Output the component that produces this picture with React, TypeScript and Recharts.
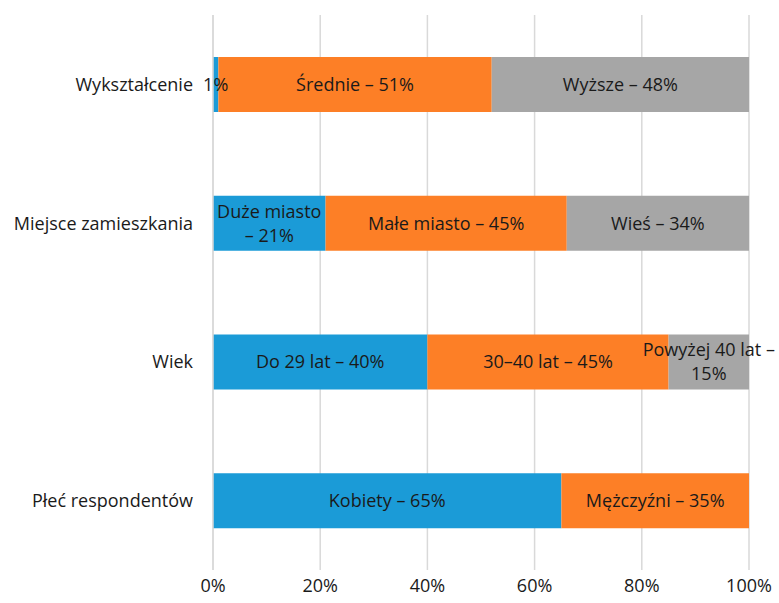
import React from "react";
import { Bar, BarChart, CartesianGrid, LabelList, XAxis, YAxis } from "recharts";

const categories = ["Wykształcenie", "Miejsce zamieszkania", "Wiek", "Płeć respondentów"];
const blueValues = [1, 21, 40, 65];
const orangeValues = [51, 45, 45, 35];
const grayValues = [48, 34, 15, 0];
const blueLabels = ["1%", "Duże miasto\n– 21%", "Do 29 lat – 40%", "Kobiety – 65%"];
const orangeLabels = ["Średnie – 51%", "Małe miasto – 45%", "30–40 lat – 45%", "Mężczyźni – 35%"];
const grayLabels = ["Wyższe – 48%", "Wieś – 34%", "Powyżej 40 lat –\n15%", ""];
const xTicks = [0, 20, 40, 60, 80, 100];
const edgeTicks = [0, 1, 2, 3, 4];

const data = categories.map((name, i) => ({
  name,
  a: blueValues[i],
  b: orangeValues[i],
  c: grayValues[i],
  la: blueLabels[i],
  lb: orangeLabels[i],
  lc: grayLabels[i],
}));

const FONT = "'Open Sans', 'Noto Sans', sans-serif";
const GRID = "#d9d9d9";

function SegmentLabel(props: any) {
  const { x, y, width, height, value } = props;
  if (!value) return null;
  const lines = String(value).split("\n");
  const cx = Number(x) + Number(width) / 2;
  const cy = Number(y) + Number(height) / 2;
  const lh = 24;
  const start = cy - ((lines.length - 1) * lh) / 2;
  return (
    <text x={cx} textAnchor="middle" fontFamily={FONT} fontSize={18} fill="#1a1a1a">
      {lines.map((ln, i) => (
        <tspan key={i} x={cx} y={start + i * lh} dy="0.35em">
          {ln}
        </tspan>
      ))}
    </text>
  );
}

export default function App() {
  return (
    <div style={{ position: "absolute", left: 0, top: 0, width: 779, height: 603, background: "#fff" }}>
      <BarChart
        width={779}
        height={603}
        data={data}
        layout="vertical"
        margin={{ top: 15, right: 30, bottom: 0, left: 0 }}
      >
        <CartesianGrid horizontal={false} stroke={GRID} strokeWidth={1.5} />
        <XAxis
          type="number"
          domain={[0, 100]}
          ticks={xTicks}
          tickFormatter={(v) => `${v}%`}
          axisLine={false}
          tickLine={false}
          tickMargin={3}
          height={33}
          tick={{ fontFamily: FONT, fontSize: 18, fill: "#1a1a1a" }}
          interval={0}
        />
        <YAxis
          type="category"
          dataKey="name"
          width={213}
          axisLine={{ stroke: GRID, strokeWidth: 1.5 }}
          tickLine={false}
          tickMargin={14}
          tick={{ fontFamily: FONT, fontSize: 18, fill: "#1a1a1a" }}
        />
        <YAxis
          yAxisId="edge"
          type="number"
          domain={[0, 4]}
          ticks={edgeTicks}
          width={0}
          axisLine={false}
          tick={false}
          tickSize={7}
          tickLine={{ stroke: GRID, strokeWidth: 1.5 }}
        />
        <Bar dataKey="a" stackId="s" fill="#1b9bd7" barSize={55} isAnimationActive={false}>
          <LabelList dataKey="la" content={SegmentLabel} />
        </Bar>
        <Bar dataKey="b" stackId="s" fill="#fd7f26" barSize={55} isAnimationActive={false}>
          <LabelList dataKey="lb" content={SegmentLabel} />
        </Bar>
        <Bar dataKey="c" stackId="s" fill="#a6a6a6" barSize={55} isAnimationActive={false}>
          <LabelList dataKey="lc" content={SegmentLabel} />
        </Bar>
      </BarChart>
    </div>
  );
}
